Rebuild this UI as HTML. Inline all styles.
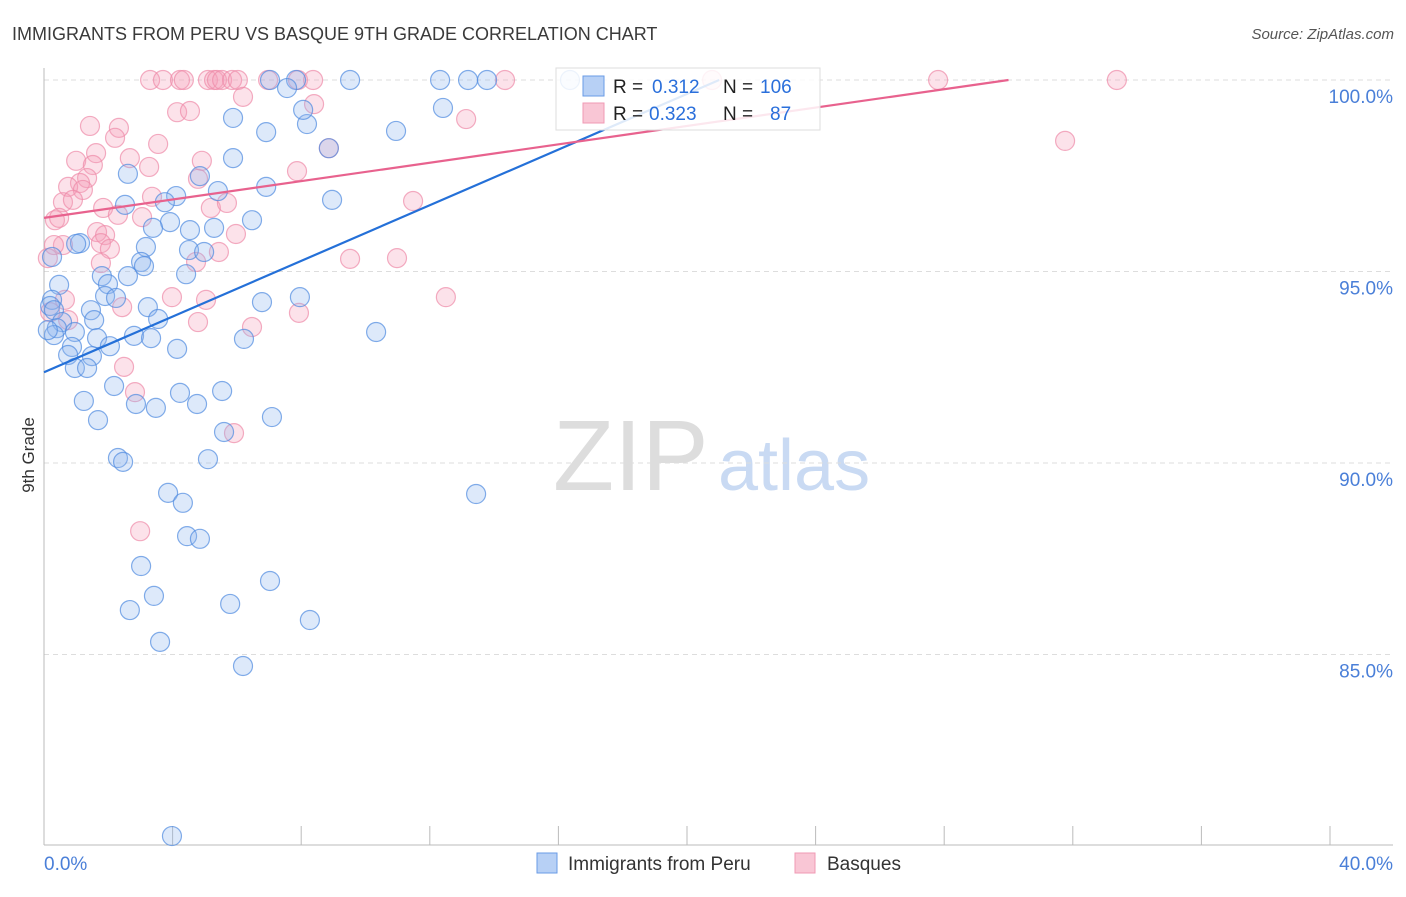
<!DOCTYPE html>
<html><head><meta charset="utf-8"><style>
body{margin:0;background:#fff;font-family:"Liberation Sans",sans-serif}
svg text{font-family:"Liberation Sans",sans-serif}
</style></head><body>
<svg id="c" width="1406" height="892" xmlns="http://www.w3.org/2000/svg">
<text x="12" y="40" font-size="18" fill="#3a3a3a">IMMIGRANTS FROM PERU VS BASQUE 9TH GRADE CORRELATION CHART</text>
<text x="1394" y="39" font-size="15" fill="#555" font-style="italic" text-anchor="end">Source: ZipAtlas.com</text>
<text x="553" y="490" font-size="100" font-family="Liberation Serif" fill="#ddd">ZIP</text>
<text x="718" y="490" font-size="72" fill="#c9daf3">atlas</text>
<g id="grid"></g><g id="axes"></g><g id="pts"></g><g id="lines"></g>
<text transform="translate(34,455) rotate(-90)" font-size="17" fill="#333" text-anchor="middle">9th Grade</text>
<g>
<rect x="556" y="68" width="264" height="62" fill="#fff" fill-opacity="0.85" stroke="#ddd"/>
<rect x="583" y="76" width="21" height="20" fill="#b7d0f5" stroke="#6a9be6"/>
<rect x="583" y="103" width="21" height="20" fill="#f9c6d5" stroke="#f09ab4"/>
<text x="613" y="93" font-size="19" fill="#222">R = <tspan fill="#2a6fdb" x="652">0.312</tspan><tspan x="723">N = </tspan><tspan fill="#2a6fdb" x="760">106</tspan></text>
<text x="613" y="120" font-size="19" fill="#222">R = <tspan fill="#2a6fdb" x="649">0.323</tspan><tspan x="723">N = </tspan><tspan fill="#2a6fdb" x="770">87</tspan></text>
</g>
<g>
<rect x="537" y="853" width="20" height="20" fill="#b7d0f5" stroke="#6a9be6"/>
<text x="568" y="870" font-size="19" fill="#333">Immigrants from Peru</text>
<rect x="795" y="853" width="20" height="20" fill="#f9c6d5" stroke="#f09ab4"/>
<text x="827" y="870" font-size="19" fill="#333">Basques</text>
</g>
</svg>
<script>
const yTicks=[100,95,90,85];
const yTickLabels=["100.0%","95.0%","90.0%","85.0%"];
const xTickLabels=["0.0%","40.0%"];
const blueX=[16.36,7.03,9.52,12.32,13.19,13.78,7.84,7.56,12.41,5.88,8.18,6.91,10.95,8.06,8.86,5.88,2.61,4.85,6.91,5.41,4.11,2.52,8.96,3.76,6.47,3.92,3.39,4.54,5.29,1.12,1.00,3.17,4.51,4.98,3.02,1.80,4.42,2.61,3.11,0.47,1.99,1.90,0.25,2.24,7.96,6.78,0.19,0.31,1.46,3.23,3.55,0.56,1.56,0.40,0.96,0.31,1.65,2.80,3.33,2.05,6.22,10.33,0.87,1.49,0.75,4.14,0.96,1.34,2.18,4.23,5.54,1.24,2.86,3.48,4.76,1.68,7.09,5.60,2.30,2.46,5.10,3.86,4.32,13.44,4.45,4.85,3.02,7.03,3.42,2.67,5.79,8.27,3.61,6.19,3.98,0.12,0.25];
const blueY=[100,100,100,100,100,100,100,99.79,99.27,99.01,98.85,98.64,98.67,99.22,98.22,97.96,97.55,97.49,97.21,97.10,96.97,96.74,96.87,96.81,96.34,96.29,96.14,96.08,96.14,95.74,95.72,95.64,95.56,95.51,95.25,94.88,94.93,94.88,95.14,94.65,94.67,94.36,94.26,94.31,94.33,94.20,94.10,93.99,93.99,94.07,93.76,93.68,93.73,93.52,93.42,93.34,93.26,93.32,93.26,93.05,93.24,93.42,93.03,92.79,92.82,92.98,92.48,92.48,92.01,91.83,91.88,91.62,91.54,91.44,91.54,91.12,91.20,90.81,90.13,90.03,90.10,89.22,88.96,89.19,88.09,88.02,87.31,86.92,86.53,86.16,86.32,85.90,85.33,84.70,80.26,93.47,95.38];
const pinkX=[3.30,3.70,4.23,4.35,5.10,5.29,5.38,5.54,5.85,6.03,6.97,7.90,8.37,14.34,20.78,27.81,33.37,6.19,4.14,4.54,8.40,1.43,2.33,2.21,13.13,3.55,1.62,2.67,1.00,1.52,3.27,7.87,1.34,1.12,0.75,1.21,0.59,0.90,1.84,4.79,4.91,3.36,3.05,2.30,5.19,5.69,11.48,1.65,0.34,0.47,1.90,5.97,0.59,1.77,2.05,5.44,4.73,9.52,10.98,1.77,3.98,5.04,2.43,12.50,7.93,4.79,6.47,0.75,2.49,2.83,5.91,2.99,31.76,8.86,0.31,0.12,0.65,0.19];
const pinkY=[100,100,100,100,100,100,100,100,100,100,100,100,100,100,100,100,100,99.56,99.16,99.19,99.37,98.80,98.75,98.49,98.98,98.33,98.09,97.96,97.89,97.78,97.73,97.62,97.44,97.31,97.21,97.13,96.81,96.87,96.66,97.42,97.89,96.95,96.42,96.48,96.66,96.79,96.84,96.03,96.34,96.40,95.95,95.98,95.69,95.74,95.59,95.51,95.25,95.33,95.35,95.22,94.33,94.26,94.07,94.33,93.92,93.68,93.55,93.73,92.51,91.85,90.78,88.22,98.41,98.22,95.69,95.35,94.26,93.94];
const blueTrend=[[0,92.37],[21,100]];
const pinkTrend=[[0,96.4],[30,100]];
const NS="http://www.w3.org/2000/svg";
const X=v=>44+v*32.15, Y=v=>80+(100-v)*38.3;
function mk(t,a,p){const e=document.createElementNS(NS,t);for(const k in a)e.setAttribute(k,a[k]);p.appendChild(e);return e;}
const grid=document.getElementById('grid'),axes=document.getElementById('axes'),pts=document.getElementById('pts'),lines=document.getElementById('lines');
yTicks.forEach((v,i)=>{
 const l=mk('line',{x1:44,x2:1393,y1:Y(v),y2:Y(v),stroke:'#ddd','stroke-dasharray':'5,4'},grid);
 
 
 const t=mk('text',{x:1393,y:Y(v)+23,'font-size':19,fill:'#4a7fd8','text-anchor':'end'},axes);
 t.textContent=yTickLabels[i];
 
 
});
const ax=mk('line',{x1:44,x2:44,y1:68,y2:845,stroke:'#bbb'},axes);


const bx=mk('line',{x1:44,x2:1393,y1:845,y2:845,stroke:'#bbb'},axes);


for(let v=0;v<=40;v+=4){
 const tk=mk('line',{x1:X(v),x2:X(v),y1:826,y2:845,stroke:'#bbb'},axes);
 
 
}
[[0,'start'],[40,'end']].forEach((d,i)=>{
 const t=mk('text',{x:i?1393:44,y:870,'font-size':19,fill:'#4a7fd8','text-anchor':d[1]},axes);
 t.textContent=xTickLabels[i];
 
 
});
function dots(xs,ys,fill,stroke,name){
 xs.forEach((x,i)=>{
  const c=mk('circle',{cx:X(x),cy:Y(ys[i]),r:9.5,fill:fill,'fill-opacity':0.3,stroke:stroke,'stroke-opacity':0.7,'stroke-width':1.2},pts);
  
  
 });
}
dots(pinkX,pinkY,'#f4a0b8','#ee8aa8','basques-point');
dots(blueX,blueY,'#8fb6ee','#4f8ae0','peru-point');
const bl=mk('line',{x1:X(blueTrend[0][0]),y1:Y(blueTrend[0][1]),x2:X(blueTrend[1][0]),y2:Y(blueTrend[1][1]),stroke:'#2470d8','stroke-width':2.2},lines);


const pl=mk('line',{x1:X(pinkTrend[0][0]),y1:Y(pinkTrend[0][1]),x2:X(pinkTrend[1][0]),y2:Y(pinkTrend[1][1]),stroke:'#e8628e','stroke-width':2.2},lines);


</script>
</body></html>
